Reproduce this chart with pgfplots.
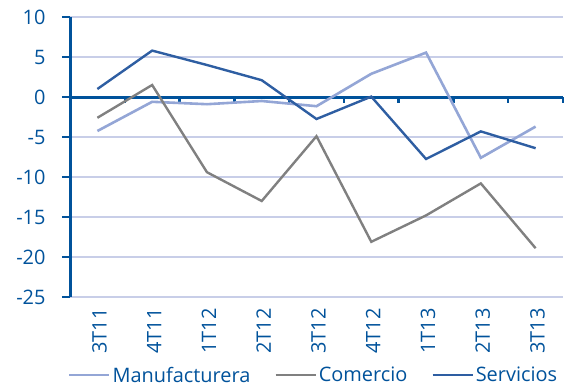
\documentclass[border=0pt]{standalone}
\usepackage{fontspec}
\setmainfont{Open Sans}
\usepackage{pgfplots}
\pgfplotsset{compat=1.18}
\definecolor{axblue}{RGB}{0,82,155}
\definecolor{manu}{RGB}{148,166,214}
\definecolor{come}{RGB}{128,128,128}
\definecolor{serv}{RGB}{46,94,162}
\definecolor{gridc}{RGB}{200,206,232}
\begin{document}
\begin{tikzpicture}
\begin{axis}[
  name=ax,
  scale only axis, width=493bp, height=280bp,
  xmin=-0.5, xmax=8.5, ymin=-25, ymax=10,
  ytick={-25,-20,...,10},
  xtick={0,...,8},
  xticklabels={3T11,4T11,1T12,2T12,3T12,4T12,1T13,2T13,3T13},
  axis x line*=bottom, axis y line*=left,
  x axis line style={draw=none},
  y axis line style={axblue, line width=3bp},
  major x tick style={draw=none},
  ytick style={axblue, line width=2.5bp},
  major tick length=8bp, tick align=outside,
  ymajorgrids, grid style={gridc, line width=1.2bp},
  /pgf/number format/assume math mode=true,
  tick label style={font=\fontsize{20}{22}\selectfont, text=axblue},
  yticklabel style={xshift=-13bp},
  xticklabel style={rotate=90, anchor=east, yshift=-2bp},
  legend style={draw=none, legend columns=3, at={(0.494,-0.279)}, anchor=center,
    font=\fontsize{20}{22}\selectfont, text=axblue, inner sep=0pt,
    /tikz/every even column/.append style={column sep=22bp}},
  legend image code/.code={\draw[#1] (0bp,0bp) -- (40bp,0bp);},
  clip=false,
]
\draw[axblue, line width=3bp] (axis cs:-0.5,0) -- (axis cs:8.5,0);
\pgfplotsinvokeforeach{0.5,1.5,2.5,3.5,4.5,5.5,6.5,7.5,8.5}{
  \draw[axblue, line width=2.5bp] (axis cs:#1,0) -- (axis cs:#1,-0.8);
}
\addplot[manu, line width=2.6bp] coordinates {
(0,-4.25) (1,-0.6) (2,-0.9) (3,-0.5) (4,-1.15) (5,2.9) (6,5.55) (7,-7.6) (8,-3.7)};
\addlegendentry{Manufacturera}
\addplot[come, line width=2.4bp] coordinates {
(0,-2.6) (1,1.5) (2,-9.4) (3,-13) (4,-4.9) (5,-18.1) (6,-14.8) (7,-10.8) (8,-18.9)};
\addlegendentry{Comercio}
\addplot[serv, line width=2.4bp] coordinates {
(0,1.0) (1,5.8) (2,4.0) (3,2.1) (4,-2.75) (5,0.05) (6,-7.75) (7,-4.3) (8,-6.4)};
\addlegendentry{Servicios}
\end{axis}
\pgfresetboundingbox
\path[use as bounding box] ([shift={(-70bp,-91bp)}]ax.south west) rectangle ([shift={(1bp,17bp)}]ax.north east);
\end{tikzpicture}
\end{document}
